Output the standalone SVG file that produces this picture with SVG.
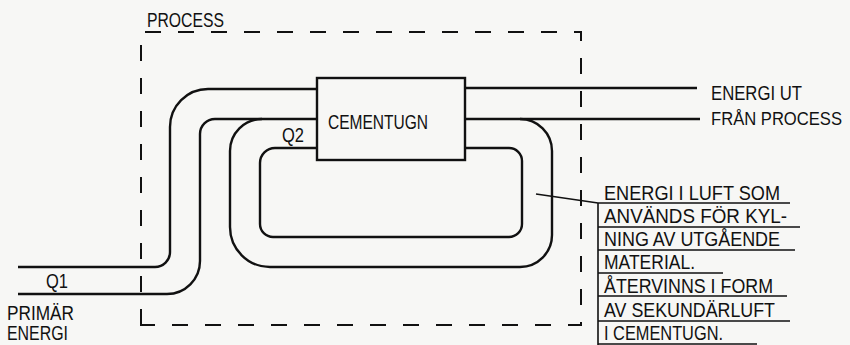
<svg xmlns="http://www.w3.org/2000/svg" width="850" height="345" viewBox="0 0 850 345">
<style>
.bg{fill:#f7f7f5}
.pipe{fill:none;stroke:#111;stroke-width:2.4;stroke-linecap:butt}
.dash{fill:none;stroke:#111;stroke-width:2;stroke-dasharray:16 17}
.box{fill:none;stroke:#111;stroke-width:2.4}
.thin{fill:none;stroke:#111;stroke-width:1.6}
text{font-family:"Liberation Sans",Arial,sans-serif;font-size:19.5px;fill:#111}
.sm{font-size:17.5px}
</style>
<rect class="bg" x="0" y="0" width="850" height="345"/>
<g id="process">
<path class="dash" d="M141,325 V32 H581 V325 Z"/>
<text x="147" y="27" textLength="77" lengthAdjust="spacingAndGlyphs">PROCESS</text>
</g>
<g id="cementugn">
<rect class="box" x="317" y="78" width="148" height="82"/>
<text x="328" y="129" textLength="100" lengthAdjust="spacingAndGlyphs">CEMENTUGN</text>
</g>
<g id="connectors">
<path class="pipe" d="M18,267 H155 A15,15 0 0 0 170,252 V127 A38,38 0 0 1 208,89 H317"/>
<path class="pipe" d="M18,294 H167 A33,33 0 0 0 200,261 V134 A15,15 0 0 1 215,119 H317"/>
<path class="pipe" d="M465,88 H697"/>
<path class="pipe" d="M465,119 H700"/>
<path class="pipe" d="M520,119 A32,32 0 0 1 552,151 V235 A32,32 0 0 1 520,267 H270 A40,40 0 0 1 230,227 V151 A32,32 0 0 1 262,119"/>
<path class="pipe" d="M465,148 H509 A13,13 0 0 1 522,161 V224 A13,13 0 0 1 509,237 H273 A13,13 0 0 1 260,224 V163 A15,15 0 0 1 275,148 H317"/>
<path class="thin" d="M536,194 L598,203"/>
</g>
<g id="label-q1">
<text x="46" y="288" textLength="22" lengthAdjust="spacingAndGlyphs">Q1</text>
</g>
<g id="label-q2">
<text x="282" y="142" textLength="22" lengthAdjust="spacingAndGlyphs">Q2</text>
</g>
<g id="label-primar">
<text x="7" y="320" textLength="67" lengthAdjust="spacingAndGlyphs">PRIMÄR</text>
<text x="7" y="340" textLength="61" lengthAdjust="spacingAndGlyphs">ENERGI</text>
</g>
<g id="label-energi-ut">
<text x="711" y="100" textLength="91" lengthAdjust="spacingAndGlyphs">ENERGI UT</text>
<text class="sm" x="711" y="125" textLength="131" lengthAdjust="spacingAndGlyphs">FRÅN PROCESS</text>
</g>
<g id="label-luft">
<path class="thin" d="M598,203 V345 M598,203 H790 M598,227 H800 M598,250 H795 M598,273 H723 M598,296 H787 M598,321 H790 M598,344 H757"/>
<text x="604" y="200" textLength="176" lengthAdjust="spacingAndGlyphs">ENERGI I LUFT SOM</text>
<text x="604" y="223" textLength="183" lengthAdjust="spacingAndGlyphs">ANVÄNDS FÖR KYL-</text>
<text x="604" y="246" textLength="176" lengthAdjust="spacingAndGlyphs">NING AV UTGÅENDE</text>
<text x="604" y="269" textLength="91" lengthAdjust="spacingAndGlyphs">MATERIAL.</text>
<text x="604" y="293" textLength="169" lengthAdjust="spacingAndGlyphs">ÅTERVINNS I FORM</text>
<text x="604" y="317" textLength="171" lengthAdjust="spacingAndGlyphs">AV SEKUNDÄRLUFT</text>
<text x="604" y="340" textLength="119" lengthAdjust="spacingAndGlyphs">I CEMENTUGN.</text>
</g>
</svg>
